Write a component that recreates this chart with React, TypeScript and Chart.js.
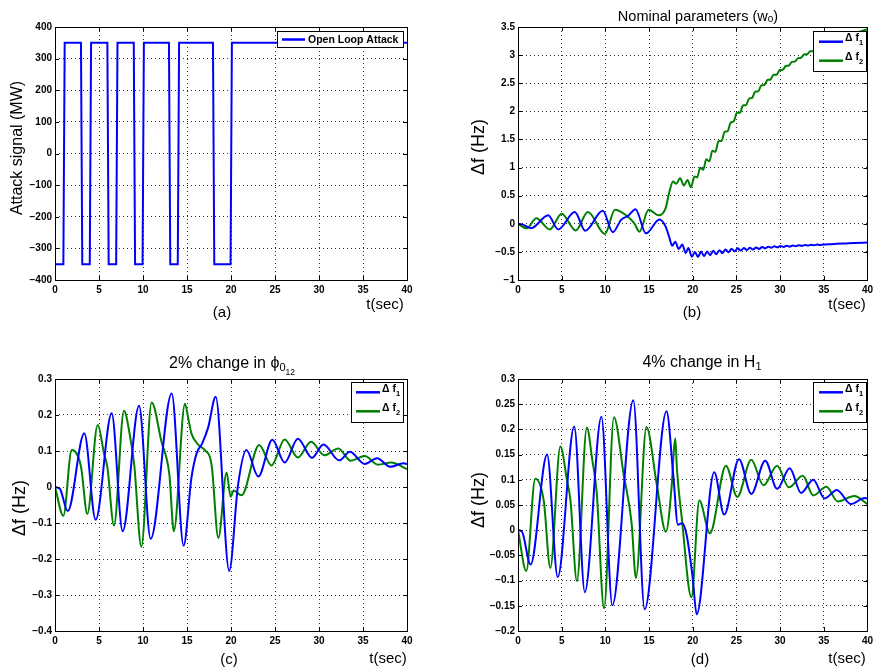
import React, { useEffect, useRef } from 'react';
import Chart from 'chart.js/auto';

// ---------- DATA ----------
// (a) open loop attack signal (MW)
const attackT = [0, 0.95, 1.1, 2.95, 3.1, 3.95, 4.1, 5.95, 6.1, 6.95, 7.1, 8.95, 9.1, 9.95, 10.1, 12.95, 13.1, 13.95, 14.1, 17.95, 18.1, 19.95, 20.1, 40];
const attackV = [-350, -350, 350, 350, -350, -350, 350, 350, -350, -350, 350, 350, -350, -350, 350, 350, -350, -350, 350, 350, -350, -350, 350, 350];

// (b) nominal parameters
const nomT1 = [0, 0.5, 1.5, 3.45, 4.6, 6.5, 7.7, 9.7, 10.85, 11.8, 12.6, 13.45, 14.65, 16.2, 16.9, 17.3, 17.65, 18.0, 18.4, 18.8, 19.2, 19.5, 19.9,
  20.25, 20.6, 20.95, 21.3, 21.65, 22.0, 22.35, 22.7, 23.05, 23.4, 23.75, 24.1, 24.45, 24.8, 25.15, 25.5, 25.85, 26.2, 26.55, 26.9, 27.25, 27.6, 27.95, 28.3, 28.65, 29.0, 29.35, 29.7, 30.05, 30.4, 30.75, 31.1, 31.45, 31.8, 32.15, 32.5, 32.85, 33.2, 33.55, 33.9, 34.25, 34.6, 35.5, 36.5, 37.5, 38.5, 39.5, 40];
const nomF1 = [0, -0.01, -0.078, 0.15, -0.1, 0.21, -0.125, 0.23, -0.15, 0.07, 0.14, 0.26, -0.17, 0.075, -0.05, -0.23, -0.39, -0.32, -0.45, -0.37, -0.52, -0.43, -0.585,
  -0.5, -0.59, -0.495, -0.576, -0.493, -0.56, -0.478, -0.541, -0.469, -0.522, -0.457, -0.506, -0.446, -0.489, -0.437, -0.477, -0.432, -0.468, -0.427, -0.459, -0.42, -0.447, -0.412, -0.436, -0.407, -0.427, -0.4, -0.419, -0.395, -0.412, -0.389, -0.407, -0.386, -0.4, -0.381, -0.394, -0.377, -0.388, -0.372, -0.382, -0.368, -0.376, -0.364, -0.356, -0.349, -0.342, -0.337, -0.335];
const nomT2 = [0, 1.0, 2.1, 3.65, 5.0, 6.6, 8.0, 9.95, 11.1, 12.3, 13.3, 13.9, 14.95, 16.1, 16.9, 17.3, 17.75, 18.1, 18.55, 19.0, 19.4, 19.8, 20.2,
  20.5, 20.85, 21.2, 21.55, 21.9, 22.25, 22.6, 22.95, 23.3, 23.65, 24.0, 24.35, 24.7, 25.05, 25.4, 25.75, 26.1, 26.45, 26.8, 27.15, 27.5, 27.85, 28.2, 28.55, 28.9, 29.25, 29.6, 29.95, 30.3, 30.65, 31.0, 31.35, 31.7, 32.05, 32.4, 32.75, 33.1, 33.45, 33.8, 34.15, 34.5, 34.85, 35.2, 35.55, 35.9, 36.5, 37, 38, 39, 40];
const nomF2 = [0, -0.08, 0.1, -0.1, 0.18, -0.12, 0.21, -0.18, 0.25, 0.16, 0.01, -0.14, 0.25, 0.15, 0.28, 0.55, 0.75, 0.71, 0.81, 0.68, 0.78, 0.65, 0.84,
  0.825, 0.995, 0.96, 1.146, 1.11, 1.3, 1.28, 1.468, 1.472, 1.636, 1.648, 1.8, 1.823, 1.972, 1.974, 2.105, 2.113, 2.226, 2.239, 2.349, 2.355, 2.461, 2.468, 2.557, 2.566, 2.65, 2.652, 2.734, 2.738, 2.807, 2.815, 2.88, 2.885, 2.947, 2.954, 3.01, 3.016, 3.068, 3.072, 3.119, 3.127, 3.168, 3.176, 3.217, 3.225, 3.27, 3.3, 3.36, 3.41, 3.46];

// (c) 2% change in phi
const phiT1 = [0, 0.55, 1.45, 3.33, 4.62, 6.44, 7.69, 9.55, 10.87, 13.26, 14.62, 15.5, 16.1, 16.7, 17.4, 18.26, 19.8, 20.8, 21.75, 23.1, 24.7, 26.1, 27.6, 29.2, 30.5, 32.3, 33.5, 35.2, 36.6, 38.1, 39.6, 40];
const phiF1 = [0, -0.005, -0.067, 0.149, -0.091, 0.205, -0.123, 0.226, -0.144, 0.26, -0.163, 0.025, 0.094, 0.12, 0.165, 0.251, -0.233, 0.006, 0.103, 0.029, 0.131, 0.068, 0.134, 0.081, 0.118, 0.074, 0.098, 0.064, 0.08, 0.056, 0.066, 0.064];
const phiT2 = [0, 0.95, 1.9, 2.95, 3.67, 4.85, 5.6, 5.95, 6.7, 7.84, 8.5, 9.0, 9.81, 10.98, 12.1, 13.0, 13.5, 14.77, 15.15, 15.5, 16.3, 17.0, 17.8, 18.56, 19.5, 19.96, 20.3, 21.2, 23.2, 24.6, 26.1, 27.6, 29.1, 30.6, 32.2, 33.6, 35.2, 36.7, 38.2, 40];
const phiF2 = [0, -0.08, 0.103, 0.057, -0.075, 0.172, 0.09, 0.055, -0.107, 0.212, 0.145, 0.062, -0.166, 0.235, 0.126, 0.034, -0.123, 0.231, 0.19, 0.149, 0.117, 0.103, 0.06, -0.142, 0.04, -0.027, -0.01, -0.023, 0.117, 0.06, 0.132, 0.082, 0.126, 0.088, 0.107, 0.073, 0.086, 0.062, 0.068, 0.05];

// (d) 4% change in H1
const hT1 = [0, 0.45, 1.44, 3.33, 4.55, 6.44, 7.65, 9.55, 10.8, 13.2, 14.5, 17.0, 17.8, 18.3, 18.8, 19.3, 20.0, 20.45, 22.46, 23.6, 25.3, 26.7, 28.3, 29.66, 31.1, 32.4, 33.8, 35.1, 36.5, 38.1, 39.7, 40];
const hF1 = [0, -0.003, -0.068, 0.15, -0.093, 0.206, -0.123, 0.225, -0.149, 0.258, -0.157, 0.236, 0.104, 0.011, 0.014, -0.009, -0.095, -0.167, 0.115, 0.031, 0.141, 0.072, 0.138, 0.082, 0.123, 0.074, 0.1, 0.063, 0.08, 0.052, 0.064, 0.063];
const hT2 = [0, 0.95, 1.97, 2.95, 3.7, 4.85, 5.6, 6.0, 6.74, 7.88, 8.5, 9.0, 9.85, 10.98, 12.1, 13.0, 13.5, 14.7, 15.9, 16.93, 17.6, 17.85, 18.0, 18.2, 18.75, 19.85, 20.75, 21.97, 23.8, 25.1, 26.7, 28.1, 29.66, 31.0, 32.6, 33.8, 35.3, 36.6, 38.5, 40];
const hF2 = [0, -0.081, 0.102, 0.058, -0.075, 0.166, 0.1, 0.06, -0.101, 0.204, 0.14, 0.077, -0.155, 0.224, 0.11, 0.015, -0.095, 0.205, 0.089, -0.003, 0.09, 0.16, 0.182, 0.12, 0.024, -0.133, 0.059, -0.006, 0.128, 0.066, 0.14, 0.089, 0.128, 0.085, 0.108, 0.069, 0.086, 0.057, 0.068, 0.052];

// axis ranges
const xMin = 0, xMax = 40, xStep = 5;
const yRangeA = [-400, 400, 100];
const yRangeB = [-1, 3.5, 0.5];
const yRangeC = [-0.4, 0.3, 0.1];
const yRangeD = [-0.2, 0.3, 0.05];

const BLUE = '#0000ff';
const GREEN = '#008000';
const SANS = '"Liberation Sans", Arial, sans-serif';

type Seg = { t: string; size: number; dy?: number; bold?: boolean };
type TextItem = { segs: Seg[]; x: number; y: number; rot?: boolean; baseline?: boolean; align?: 'left' | 'center' };
type LegendRow = { y: number; ty: number; color: string; segs: Seg[] };
type Legend = { x: number; y: number; w: number; h: number; lx0: number; lx1: number; tx: number; rows: LegendRow[] };
type Series = { t: number[]; v: number[]; color: string; width: number; smooth: boolean };
type PanelCfg = {
  left: number; top: number; width: number; height: number;
  area: { l: number; t: number; r: number; b: number };
  yr: number[];
  series: Series[];
  texts: TextItem[];
  legend: Legend;
};

function drawRich(ctx: CanvasRenderingContext2D, item: TextItem) {
  const widths: number[] = [];
  let total = 0;
  item.segs.forEach((s) => {
    ctx.font = `${s.bold ? 'bold ' : ''}${s.size}px ${SANS}`;
    const w = ctx.measureText(s.t).width;
    widths.push(w);
    total += w;
  });
  ctx.save();
  ctx.translate(item.x, item.y);
  if (item.rot) ctx.rotate(-Math.PI / 2);
  ctx.textAlign = 'left';
  ctx.textBaseline = 'alphabetic';
  ctx.fillStyle = '#000';
  let x = item.align === 'left' ? 0 : -total / 2;
  const base = item.baseline ? 0 : item.segs[0].size * 0.36;
  item.segs.forEach((s, i) => {
    ctx.font = `${s.bold ? 'bold ' : ''}${s.size}px ${SANS}`;
    ctx.fillText(s.t, x, base + (s.dy || 0));
    x += widths[i];
  });
  ctx.restore();
}

const fmt = (v: number) => String(Math.round(v * 1000) / 1000).replace('-', '\u2212');

function Panel({ cfg }: { cfg: PanelCfg }) {
  const ref = useRef<HTMLCanvasElement | null>(null);
  useEffect(() => {
    const canvas = ref.current;
    if (!canvas) return;
    const { area, width, height } = cfg;
    const decor = {
      id: 'decor',
      afterDraw(chart: any) {
        const ctx: CanvasRenderingContext2D = chart.ctx;
        const ca = chart.chartArea;
        const xs = chart.scales.x;
        const ys = chart.scales.y;
        ctx.save();
        // inward tick marks
        ctx.strokeStyle = '#000';
        ctx.lineWidth = 1;
        ctx.beginPath();
        xs.ticks.forEach((tk: any) => {
          const px = Math.round(xs.getPixelForValue(tk.value)) + 0.5;
          ctx.moveTo(px, ca.bottom); ctx.lineTo(px, ca.bottom - 4);
          ctx.moveTo(px, ca.top); ctx.lineTo(px, ca.top + 4);
        });
        ys.ticks.forEach((tk: any) => {
          const py = Math.round(ys.getPixelForValue(tk.value)) + 0.5;
          ctx.moveTo(ca.left, py); ctx.lineTo(ca.left + 4, py);
          ctx.moveTo(ca.right, py); ctx.lineTo(ca.right - 4, py);
        });
        ctx.stroke();
        // box
        ctx.strokeRect(Math.round(ca.left) + 0.5, Math.round(ca.top) + 0.5, Math.round(ca.right - ca.left), Math.round(ca.bottom - ca.top));
        // legend
        const lg = cfg.legend;
        ctx.fillStyle = '#fff';
        ctx.fillRect(lg.x, lg.y, lg.w, lg.h);
        ctx.strokeStyle = '#000';
        ctx.lineWidth = 1;
        ctx.strokeRect(lg.x + 0.5, lg.y + 0.5, lg.w, lg.h);
        lg.rows.forEach((r) => {
          ctx.strokeStyle = r.color;
          ctx.lineWidth = 2.5;
          ctx.beginPath();
          ctx.moveTo(lg.lx0, r.y);
          ctx.lineTo(lg.lx1, r.y);
          ctx.stroke();
          drawRich(ctx, { segs: r.segs, x: lg.tx, y: r.ty, baseline: true, align: 'left' });
        });
        cfg.texts.forEach((t) => drawRich(ctx, t));
        ctx.restore();
      },
    };
    const chart = new Chart(canvas, {
      type: 'line',
      data: {
        datasets: cfg.series.map((s) => ({
          data: s.t.map((t, i) => ({ x: t, y: s.v[i] })),
          borderColor: s.color,
          backgroundColor: s.color,
          borderWidth: s.width,
          pointRadius: 0,
          fill: false,
          tension: 0,
          cubicInterpolationMode: s.smooth ? 'monotone' : 'default',
        })),
      },
      options: {
        responsive: false,
        maintainAspectRatio: false,
        animation: false,
        events: [],
        layout: { padding: { left: 0, top: area.t, right: width - area.r, bottom: 0 } },
        plugins: { legend: { display: false }, tooltip: { enabled: false }, title: { display: false } },
        scales: {
          x: {
            type: 'linear',
            min: xMin,
            max: xMax,
            afterFit: (s: any) => { s.height = height - area.b; },
            ticks: { stepSize: xStep, maxRotation: 0, autoSkip: false, padding: 4, color: '#000', font: { family: SANS, size: 10, weight: 'bold' }, callback: (v: any) => fmt(Number(v)) },
            grid: { color: 'rgba(0,0,0,0.8)', lineWidth: 1, drawTicks: false },
            border: { display: false, dash: [1, 3] },
          },
          y: {
            type: 'linear',
            min: cfg.yr[0],
            max: cfg.yr[1],
            afterFit: (s: any) => { s.width = area.l; },
            ticks: { stepSize: cfg.yr[2], autoSkip: false, padding: 3, color: '#000', font: { family: SANS, size: 10, weight: 'bold' }, callback: (v: any) => fmt(Number(v)) },
            grid: { color: 'rgba(0,0,0,0.8)', lineWidth: 1, drawTicks: false },
            border: { display: false, dash: [1, 3] },
          },
        },
      },
      plugins: [decor],
    } as any);
    return () => chart.destroy();
  }, [cfg]);
  return (
    <canvas
      ref={ref}
      width={cfg.width}
      height={cfg.height}
      style={{ position: 'absolute', left: cfg.left, top: cfg.top, width: cfg.width, height: cfg.height }}
    />
  );
}

const dfRows = (y1: number, y2: number): LegendRow[] => [
  { y: y1, ty: y1 - 0.5, color: BLUE, segs: [{ t: '\u0394 f', size: 10.5, bold: true }, { t: '1', size: 7.5, dy: 4, bold: true }] },
  { y: y2, ty: y2 - 0.5, color: GREEN, segs: [{ t: '\u0394 f', size: 10.5, bold: true }, { t: '2', size: 7.5, dy: 4, bold: true }] },
];

const panels: PanelCfg[] = [
  {
    left: 0, top: 0, width: 440, height: 330,
    area: { l: 55, t: 27, r: 407, b: 280 },
    yr: yRangeA,
    series: [{ t: attackT, v: attackV, color: BLUE, width: 2, smooth: false }],
    texts: [
      { segs: [{ t: 'Attack signal (MW)', size: 16 }], x: 16, y: 148, rot: true },
      { segs: [{ t: '(a)', size: 15 }], x: 222, y: 312 },
      { segs: [{ t: 't(sec)', size: 15 }], x: 385, y: 304 },
    ],
    legend: {
      x: 277, y: 31, w: 126, h: 16, lx0: 282, lx1: 305, tx: 308,
      rows: [{ y: 39.5, ty: 43, color: BLUE, segs: [{ t: 'Open Loop Attack', size: 10.5, bold: true }] }],
    },
  },
  {
    left: 440, top: 0, width: 437, height: 330,
    area: { l: 78, t: 27, r: 430, b: 280 },
    yr: yRangeB,
    series: [
      { t: nomT1, v: nomF1, color: BLUE, width: 2, smooth: true },
      { t: nomT2, v: nomF2, color: GREEN, width: 2, smooth: true },
    ],
    texts: [
      { segs: [{ t: 'Nominal parameters (w', size: 14.5 }, { t: 'o', size: 10, dy: 1 }, { t: ')', size: 14.5 }], x: 258, y: 20.5, baseline: true },
      { segs: [{ t: '\u0394f (Hz)', size: 18 }], x: 38, y: 147, rot: true },
      { segs: [{ t: '(b)', size: 15 }], x: 252, y: 312 },
      { segs: [{ t: 't(sec)', size: 15 }], x: 407, y: 304 },
    ],
    legend: { x: 373, y: 31, w: 53, h: 40, lx0: 379, lx1: 403, tx: 405, rows: dfRows(41.7, 60.7) },
  },
  {
    left: 0, top: 330, width: 440, height: 338,
    area: { l: 55, t: 49, r: 407, b: 301 },
    yr: yRangeC,
    series: [
      { t: phiT1, v: phiF1, color: BLUE, width: 2, smooth: true },
      { t: phiT2, v: phiF2, color: GREEN, width: 2, smooth: true },
    ],
    texts: [
      { segs: [{ t: '2% change in \u03D5', size: 16 }, { t: '0', size: 11, dy: 3 }, { t: '12', size: 8.5, dy: 7 }], x: 232, y: 38, baseline: true },
      { segs: [{ t: '\u0394f (Hz)', size: 18 }], x: 19, y: 178, rot: true },
      { segs: [{ t: '(c)', size: 15 }], x: 229, y: 329 },
      { segs: [{ t: 't(sec)', size: 15 }], x: 388, y: 328 },
    ],
    legend: { x: 351, y: 52, w: 52, h: 40, lx0: 356, lx1: 380, tx: 382, rows: dfRows(62.3, 81.3) },
  },
  {
    left: 440, top: 330, width: 437, height: 338,
    area: { l: 78, t: 49, r: 430, b: 301 },
    yr: yRangeD,
    series: [
      { t: hT1, v: hF1, color: BLUE, width: 2, smooth: true },
      { t: hT2, v: hF2, color: GREEN, width: 2, smooth: true },
    ],
    texts: [
      { segs: [{ t: '4% change in H', size: 16 }, { t: '1', size: 11, dy: 3 }], x: 262, y: 36.5, baseline: true },
      { segs: [{ t: '\u0394f (Hz)', size: 18 }], x: 38, y: 170, rot: true },
      { segs: [{ t: '(d)', size: 15 }], x: 260, y: 329 },
      { segs: [{ t: 't(sec)', size: 15 }], x: 407, y: 328 },
    ],
    legend: { x: 373, y: 52, w: 53, h: 40, lx0: 379, lx1: 403, tx: 405, rows: dfRows(62.3, 81.3) },
  },
];

export default function App() {
  return (
    <div style={{ position: 'absolute', left: 0, top: 0, width: 877, height: 668, background: '#fff', overflow: 'hidden' }}>
      {panels.map((p, i) => (
        <Panel key={i} cfg={p} />
      ))}
    </div>
  );
}
